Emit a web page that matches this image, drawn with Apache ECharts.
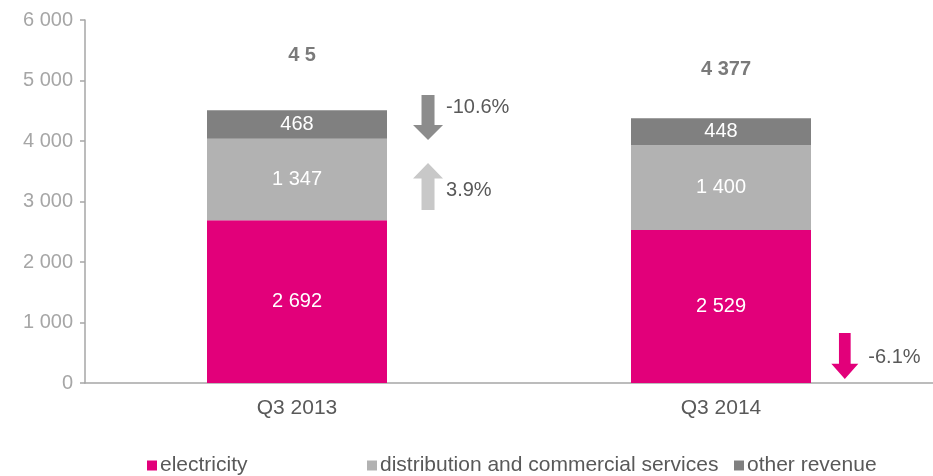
<!DOCTYPE html>
<html>
<head>
<meta charset="utf-8">
<script src="https://cdn.jsdelivr.net/npm/echarts@6/dist/echarts.min.js"></script>
<style>html,body{margin:0;padding:0;background:#fff}#c{width:933px;height:476px}</style>
</head>
<body>
<div id="c"></div>
<script>
// ---- data ----
const categories = ['Q3 2013', 'Q3 2014'];
const electricity = [2692, 2529];
const distribution = [1347, 1400];
const otherRevenue = [468, 448];
const totalLabels = ['4 5', '4 377'];          // text as shown in the picture
const totalLabelY = [5420, 5175];              // label anchor (value units)
const changeLabels = ['-10.6%', '3.9%', '-6.1%'];
const changeX = [0.309, 0.309, 1.292];         // position in category units
const changeY = [4390, 3250, 446];
const yTicks = [0, 1000, 2000, 3000, 4000, 5000, 6000];

const FONT = 'Liberation Sans, Arial, sans-serif';
const C_EL = '#E2007A', C_DI = '#B2B2B2', C_OT = '#808080';
const fmt = v => String(v).replace(/\B(?=(\d{3})+(?!\d))/g, ' ');

const DOWN = 'path://M8.5,0 L21.5,0 L21.5,30 L30,30 L15,45 L0,30 L8.5,30 Z';
const UP = 'path://M8.5,45 L21.5,45 L21.5,15 L30,15 L15,0 L0,15 L8.5,15 Z';

function arrow(i, color, sym, size, off, dist) {
  return {
    type: 'scatter', xAxisIndex: 1, yAxisIndex: 0, symbol: sym, symbolSize: size,
    itemStyle: { color: color, opacity: 1 }, silent: true,
    data: [[changeX[i], changeY[i]]],
    label: { show: true, position: 'right', distance: dist, offset: off,
      formatter: changeLabels[i], color: '#595959', fontSize: 20, fontFamily: FONT }
  };
}

const barLabel = { show: true, position: 'inside', color: '#fff', fontSize: 20, fontFamily: FONT, formatter: p => fmt(p.value) };

const chart = echarts.init(document.getElementById('c'), null, { renderer: 'canvas' });
chart.setOption({
  animation: false,
  textStyle: { fontFamily: FONT },
  grid: { left: 85, right: 0, top: 20, bottom: 93, containLabel: false },
  xAxis: [{
    type: 'category', data: categories,
    axisLine: { show: true, lineStyle: { color: '#A6A6A6', width: 1.5 } },
    axisTick: { show: false },
    axisLabel: { color: '#595959', fontSize: 21, margin: 15, fontFamily: FONT }
  }, {
    type: 'value', min: -0.5, max: 1.5, show: false
  }],
  yAxis: {
    type: 'value', min: 0, max: 6000, interval: 1000,
    axisLine: { show: true, onZero: false, lineStyle: { color: '#A6A6A6', width: 1.5 } },
    axisTick: { show: true, length: 5, inside: false, lineStyle: { color: '#A6A6A6', width: 1.5 } },
    splitLine: { show: false },
    axisLabel: { color: '#A6A6A6', fontSize: 20, margin: 12, fontFamily: FONT, formatter: v => fmt(v) }
  },
  legend: [
    { data: ['electricity'], left: 147, top: 455 },
    { data: ['distribution and commercial services'], left: 367, top: 455 },
    { data: ['other revenue'], left: 734, top: 455 }
  ].map(l => Object.assign(l, {
    icon: 'rect', itemWidth: 10, itemHeight: 10, itemGap: 0, padding: 0,
    textStyle: { color: '#595959', fontSize: 21, fontFamily: FONT, padding: [0, 0, 0, -2] }
  })),
  series: [
    { name: 'electricity', type: 'bar', stack: 't', barWidth: 180, data: electricity, itemStyle: { color: C_EL }, label: barLabel },
    { name: 'distribution and commercial services', type: 'bar', stack: 't', barWidth: 180, data: distribution, itemStyle: { color: C_DI }, label: barLabel },
    { name: 'other revenue', type: 'bar', stack: 't', barWidth: 180, data: otherRevenue, itemStyle: { color: C_OT }, label: barLabel },
    {
      type: 'scatter', xAxisIndex: 1, symbolSize: 0, silent: true,
      data: totalLabelY.map((y, i) => ({ value: [i + 0.012, y], label: { formatter: totalLabels[i] } })),
      label: { show: true, position: 'inside', color: '#595959', fontSize: 20, fontWeight: 'bold', fontFamily: FONT }
    },
    arrow(0, '#8C8C8C', DOWN, [30, 45], [0, -10], 3),
    arrow(1, '#C8C8C8', UP, [30, 47], [0, 4], 3),
    arrow(2, C_EL, DOWN, [27, 46], [0, 1], 10)
  ]
});
</script>
</body>
</html>
